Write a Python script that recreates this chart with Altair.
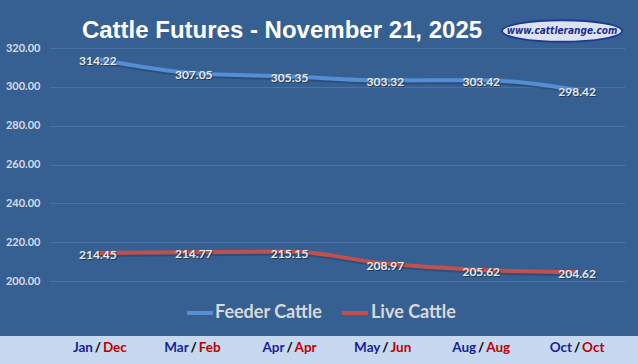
import altair as alt
import pandas as pd

front = ["Jan", "Mar", "Apr", "May", "Aug", "Oct"]
back = ["Dec", "Feb", "Apr", "Jun", "Aug", "Oct"]
feeder = [314.22, 307.05, 305.35, 303.32, 303.42, 298.42]
live = [214.45, 214.77, 215.15, 208.97, 205.62, 204.62]
y_ticks = [200, 220, 240, 260, 280, 300, 320]
title_text = "Cattle Futures - November 21, 2025"
logo_text = "www.cattlerange.com"

BG = "#376092"
STRIP = "#C6D9F1"
FEED_C = "#558ED5"
LIVE_C = "#C0504D"
LBL = "#E6E9EE"
FONT = "Lato"

cats = [f"{a} / {b}" for a, b in zip(front, back)]
rows = []
for c, a, b, v in zip(cats, front, back, feeder):
    rows.append({"cat": c, "front": a, "back": b, "series": "Feeder Cattle", "value": v})
for c, a, b, v in zip(cats, front, back, live):
    rows.append({"cat": c, "front": a, "back": b, "series": "Live Cattle", "value": v})
df = pd.DataFrame(rows)
cat_df = pd.DataFrame({"cat": cats, "front": front, "back": back})

xs = alt.X("cat:N", sort=cats, scale=alt.Scale(paddingInner=0, paddingOuter=0), axis=None)
ys = alt.Y("value:Q", scale=alt.Scale(domain=[200, 320], nice=False, zero=False),
           axis=alt.Axis(values=y_ticks, format=".2f", title=None, domain=False, ticks=False,
                         labelColor="#D5DCE8", labelFont=FONT, labelFontWeight="bold",
                         labelFontSize=11, labelPadding=10, labelOverlap=False,
                         gridColor="#4A72A6", gridWidth=1))
color = alt.Color("series:N", scale=alt.Scale(domain=["Feeder Cattle", "Live Cattle"],
                                              range=[FEED_C, LIVE_C]), legend=None)

one = pd.DataFrame({"t": [""]})

strip = alt.Chart(one).mark_rect(color=STRIP).encode(
    x=alt.value(-50), x2=alt.value(588), y=alt.value(288), y2=alt.value(316))

base = alt.Chart(df)
shadow = base.mark_line(strokeWidth=4, interpolate="monotone", color="#1A2F4F",
                        opacity=0.35, yOffset=2, xOffset=1).encode(
    x=xs, y=ys, detail="series:N")
lines = base.mark_line(strokeWidth=4, interpolate="monotone").encode(
    x=xs, y=ys, color=color)
lbl_sh = base.mark_text(font=FONT, fontWeight="bold", fontSize=12, color="#1A2A40",
                        dy=3, dx=1, opacity=0.7).encode(
    x=xs, y=ys, text=alt.Text("value:Q", format=".2f"))
lbl = base.mark_text(font=FONT, fontWeight="bold", fontSize=12, color=LBL, dy=2).encode(
    x=xs, y=ys, text=alt.Text("value:Q", format=".2f"))

xl_front = alt.Chart(cat_df).mark_text(font=FONT, fontWeight="bold", fontSize=13.5,
                                       color="#1A1F9A", align="right", dx=-5).encode(
    x=xs, y=alt.value(300), text="front:N")
xl_slash = alt.Chart(cat_df).mark_text(font=FONT, fontWeight="bold", fontSize=13.5,
                                       color="#000000", align="center").encode(
    x=xs, y=alt.value(300), text=alt.value("/"))
xl_back = alt.Chart(cat_df).mark_text(font=FONT, fontWeight="bold", fontSize=13.5,
                                      color="#C00000", align="left", dx=5).encode(
    x=xs, y=alt.value(300), text="back:N")

leg_df = pd.DataFrame({"t": ["Feeder Cattle", "Live Cattle"],
                       "x1": [137, 292], "x2": [163, 318], "xt": [165, 321],
                       "c": [FEED_C, LIVE_C]})
leg_line = alt.Chart(leg_df).mark_rule(strokeWidth=4).encode(
    x=alt.X("x1:Q", scale=None), x2="x2:Q", y=alt.value(265),
    color=alt.Color("c:N", scale=None))
leg_text = alt.Chart(leg_df).mark_text(font=FONT, fontWeight="bold", fontSize=18,
                                       color="#D9D9D9", align="left", baseline="middle").encode(
    x=alt.X("xt:Q", scale=None), y=alt.value(265), text="t:N")

title_df = pd.DataFrame({"t": [title_text]})
title = alt.Chart(title_df).mark_text(font="Liberation Sans", fontWeight="bold",
                                      fontSize=24, color="#FFFFFF",
                                      baseline="middle").encode(
    x=alt.value(232), y=alt.value(-17), text="t:N")

ellipse = "M-1,0A1,0.18,0,1,1,1,0A1,0.18,0,1,1,-1,0Z"
logo_df = pd.DataFrame({"t": [logo_text]})
logo_shape = alt.Chart(logo_df).mark_point(shape=ellipse, size=14400, filled=True,
                                           fill="#DCE3F0", stroke="#1F3A93",
                                           strokeWidth=2, opacity=1).encode(
    x=alt.value(512), y=alt.value(-17))
logo_txt = alt.Chart(logo_df).mark_text(font="Liberation Sans Narrow, DejaVu Sans Condensed",
                                        fontWeight="bold", fontStyle="italic", fontSize=10,
                                        color="#1F2F8F", baseline="middle").encode(
    x=alt.value(512), y=alt.value(-17), text="t:N")

chart = alt.layer(strip, shadow, lines, lbl_sh, lbl, xl_front, xl_slash, xl_back,
                  leg_line, leg_text, title, logo_shape, logo_txt).properties(
    width=575, height=233, background=BG,
    autosize=alt.AutoSizeParams(type="none"),
    padding={"left": 50, "top": 48, "right": 13, "bottom": 83},
).configure_view(stroke=None)

chart.save("out.html", embed_options={"renderer": "svg", "actions": False})
